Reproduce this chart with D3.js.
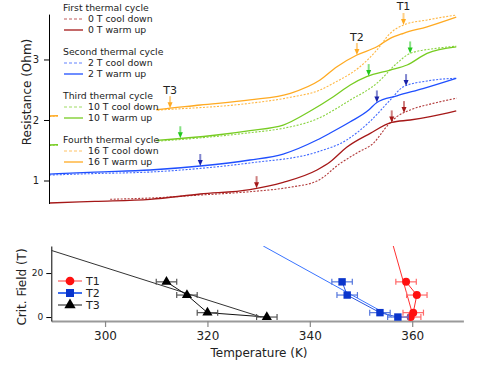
<!DOCTYPE html>
<html>
<head>
<meta charset="utf-8">
<script src="https://cdn.jsdelivr.net/npm/d3@7"></script>
<style>
body{margin:0;background:#fff}
text{font-family:"DejaVu Sans",sans-serif;fill:#222}
</style>
</head>
<body>
<svg width="503" height="365"></svg>
<script>
"use strict";
// top panel: [temperature K, resistance Ohm]
var cool0 = [[301.0,0.69],[310,0.715],[318.6,0.76],[328.3,0.815],[336.2,0.89],[341.4,0.99],[345.9,1.28],[349.5,1.47],[352.4,1.615],[355.3,1.92],[357.0,2.055],[359.6,2.165],[364.1,2.275],[368.7,2.36]];
var warm0 = [[289.1,0.628],[298,0.655],[308.8,0.689],[318.6,0.777],[328.3,0.85],[334.8,0.97],[341.4,1.174],[344.0,1.31],[347.2,1.55],[351.8,1.78],[356.0,1.96],[359.6,2.0],[363.5,2.055],[368.6,2.15]];
var cool2 = [[289.1,1.09],[298,1.115],[308.8,1.14],[318.6,1.2],[328.3,1.29],[341.4,1.47],[347.2,1.67],[351.8,1.98],[355.7,2.33],[358.3,2.55],[362.9,2.645],[368.6,2.69]];
var warm2 = [[289.1,1.107],[298,1.14],[308.8,1.174],[318.6,1.24],[328.3,1.339],[334.8,1.438],[341.4,1.669],[344.0,1.785],[347.9,1.97],[351.5,2.165],[353.1,2.29],[357.0,2.40],[362.1,2.52],[368.6,2.69]];
var cool10 = [[289.1,1.58],[309.4,1.645],[328.3,1.79],[334.8,1.863],[341.4,2.017],[347.9,2.33],[353.1,2.607],[357.0,2.937],[359.6,3.10],[364.8,3.185],[368.6,3.22]];
var warm10 = [[289.1,1.587],[309.4,1.658],[321.8,1.752],[328.3,1.826],[334.8,1.917],[340.1,2.149],[344.6,2.385],[347.9,2.579],[351.1,2.716],[355.7,2.826],[359.0,2.909],[362.9,3.102],[368.6,3.21]];
var cool16 = [[289.1,2.058],[310.7,2.165],[328.3,2.276],[336.2,2.375],[342.0,2.496],[344.6,2.607],[349.8,2.88],[353.1,3.157],[355.7,3.433],[358.3,3.57],[362.9,3.653],[368.6,3.735]];
var warm16 = [[289.1,2.066],[310.7,2.177],[318.6,2.248],[328.3,2.331],[336.2,2.441],[342.0,2.661],[345.3,2.881],[349.2,3.074],[353.1,3.21],[355.7,3.35],[358.3,3.433],[362.9,3.54],[368.6,3.70]];

var cycleNames = ["First thermal cycle","Second thermal cycle","Third thermal cycle","Fourth thermal cycle"];
var fieldNames = ["0 T","2 T","10 T","16 T"];
var colors = ["#a51818","#1f4fff","#77cc22","#ffaa22"];
var arrowColors = ["#a51818","#1a22a8","#22c81e","#ffaa22"];

// arrow positions (K), one per cycle; T1 sits on cool down, T2/T3 on warm up
var arrowT1 = [358.4,358.8,359.6,358.3];
var arrowT2 = [356.0,353.1,351.5,349.2];
var arrowT3 = [329.6,318.6,314.7,312.7];

// bottom panel
var critFields = [16,10,2,0];
var critT1 = [358.8,360.9,360.2,359.7];
var critT2 = [346.3,347.3,353.7,357.2];
var critT3 = [312.0,316.0,320.0,331.6];
var critErr = [2,2,2,2];
var fitT1 = [[356.3,32.3],[360.3,-0.6]];
var fitT2 = [[330.9,32.3],[356.0,0]];
var fitT3 = [[289.5,30.3],[330.5,0]];
var xTicks = [300,320,340,360];

var svg = d3.select("svg");

var x = d3.scaleLinear().domain([289.5,370]).range([51.3,463.4]);
var yTop = d3.scaleLinear().domain([0.62,3.75]).range([203.5,14.1]);
var yBot = d3.scaleLinear().domain([-1.8,32.3]).range([321,246]);

// ---- top panel
var line = d3.line().x(d => x(d[0])).y(d => yTop(d[1])).curve(d3.curveMonotoneX);
var curves = [
  {d:cool0,c:0,dash:true},{d:warm0,c:0},
  {d:cool2,c:1,dash:true},{d:warm2,c:1},
  {d:cool10,c:2,dash:true},{d:warm10,c:2},
  {d:cool16,c:3,dash:true},{d:warm16,c:3}
];
svg.append("g").selectAll("path")
  .data(curves)
  .enter()
  .append("path")
  .attr("d", d => line(d.d))
  .attr("fill","none")
  .attr("stroke", d => colors[d.c])
  .attr("stroke-width", d => d.dash ? 1.1 : 1.3)
  .attr("stroke-opacity", d => d.dash ? 0.85 : 1)
  .attr("stroke-dasharray", d => d.dash ? "2,1.5" : null);

function valueAt(data, t){
  var i = d3.bisector(d => d[0]).left(data, t);
  if(i <= 0) return data[0][1];
  if(i >= data.length) return data[data.length-1][1];
  var a = data[i-1], b = data[i];
  return a[1] + (b[1]-a[1])*(t-a[0])/(b[0]-a[0]);
}

var coolSets = [cool0,cool2,cool10,cool16];
var warmSets = [warm0,warm2,warm10,warm16];
var arrows = [];
for(var i=0;i<4;i++){
  arrows.push({t:arrowT1[i], r:valueAt(coolSets[i],arrowT1[i]), c:i, lbl:"T1"});
  arrows.push({t:arrowT2[i], r:valueAt(warmSets[i],arrowT2[i]), c:i, lbl:"T2"});
  arrows.push({t:arrowT3[i], r:valueAt(warmSets[i],arrowT3[i]), c:i, lbl:"T3"});
}
var ag = svg.append("g").selectAll("g")
  .data(arrows)
  .enter()
  .append("g")
  .attr("transform", d => "translate(" + x(d.t) + "," + yTop(d.r) + ")");
ag.append("line")
  .attr("x1",0).attr("x2",0).attr("y1",-12).attr("y2",-5)
  .attr("stroke", d => arrowColors[d.c])
  .attr("stroke-opacity",0.55)
  .attr("stroke-width",2);
ag.append("path")
  .attr("d","M-2.5,-6L2.5,-6L0,0Z")
  .attr("fill", d => arrowColors[d.c]);
ag.filter(d => d.c === 3)
  .append("text")
  .attr("y",-14.5)
  .attr("text-anchor","middle")
  .attr("font-size",11)
  .text(d => d.lbl);

// legend with opaque background
svg.append("rect").attr("x",58).attr("y",0).attr("width",98).attr("height",168).attr("fill","#fff");
var lg = svg.append("g").selectAll("g")
  .data(cycleNames)
  .enter()
  .append("g")
  .attr("transform", (d,i) => "translate(0," + (8 + 44*i) + ")");
lg.append("text").attr("x",63).attr("dy","0.35em").attr("font-size",9.3).text(d => d);
lg.append("line").attr("x1",64).attr("x2",83).attr("y1",11).attr("y2",11)
  .attr("stroke",(d,i) => colors[i]).attr("stroke-opacity",0.7).attr("stroke-dasharray","3,2").attr("stroke-width",1);
lg.append("line").attr("x1",64).attr("x2",83).attr("y1",22).attr("y2",22)
  .attr("stroke",(d,i) => colors[i]).attr("stroke-width",1.3);
lg.append("text").attr("x",88).attr("y",11).attr("dy","0.35em").attr("font-size",9.3).text((d,i) => fieldNames[i] + " cool down");
lg.append("text").attr("x",88).attr("y",22).attr("dy","0.35em").attr("font-size",9.3).text((d,i) => fieldNames[i] + " warm up");

var yAxTop = svg.append("g")
  .attr("transform","translate(49,0)")
  .call(d3.axisLeft(yTop).tickValues([1,2,3]).tickFormat(d3.format("d")).tickSize(5).tickSizeOuter(0).tickPadding(5));
yAxTop.selectAll("text").attr("font-size",10).style("font-family","DejaVu Sans");
svg.append("text")
  .attr("transform","translate(27,92) rotate(-90)")
  .attr("text-anchor","middle").attr("dy","0.35em").attr("font-size",12)
  .text("Resistance (Ohm)");

// ---- bottom panel
svg.append("clipPath").attr("id","plot")
  .append("rect").attr("x",x.range()[0]).attr("y",246).attr("width",x.range()[1]-x.range()[0]).attr("height",75);

var xAx = svg.append("g")
  .attr("transform","translate(0,321)")
  .call(d3.axisBottom(x).tickValues(xTicks).tickSize(6).tickSizeOuter(0).tickPadding(4));
xAx.select(".domain").attr("stroke","#9a9a9a").attr("stroke-width",2);
xAx.selectAll(".tick line").attr("stroke","#888").attr("stroke-width",1.2);
xAx.selectAll("text").attr("font-size",12).style("font-family","DejaVu Sans");
svg.append("text").attr("x",259).attr("y",353).attr("dy","0.35em").attr("text-anchor","middle").attr("font-size",12).text("Temperature (K)");

var yAxBot = svg.append("g")
  .attr("transform","translate(" + x.range()[0] + ",0)")
  .call(d3.axisLeft(yBot).tickValues([0,20]).tickSize(5).tickSizeOuter(0).tickPadding(3));
yAxBot.selectAll("text").attr("font-size",9).attr("fill","#444").style("font-family","DejaVu Sans");
svg.append("text")
  .attr("transform","translate(22,287) rotate(-90)")
  .attr("text-anchor","middle").attr("dy","0.35em").attr("font-size",12)
  .text("Crit. Field (T)");

var series = [
  {t:critT1, fit:fitT1, line:"#ff2a2a", err:"#ff6a6a", fitc:"#ff3030", leg:"#ff9c9c", mark:"circle", fill:"#ff1010"},
  {t:critT2, fit:fitT2, line:"#2a55dd", err:"#5577dd", fitc:"#3a74ff", leg:"#3f6fee", mark:"square", fill:"#0a35cc"},
  {t:critT3, fit:fitT3, line:"#111", err:"#555", fitc:"#333", leg:"#8a8a8a", mark:"triangle", fill:"#000"}
];
var lp = d3.line().x(d => x(d[0])).y(d => yBot(d[1]));
var bg = svg.append("g").attr("clip-path","url(#plot)");
series.forEach(s => {
  bg.append("path").attr("d", lp(s.fit)).attr("fill","none").attr("stroke",s.fitc).attr("stroke-width",1);
});
var sym = {circle:d3.symbolCircle, square:d3.symbolSquare, triangle:d3.symbolTriangle};
var symSize = {circle:50, square:55, triangle:45};
series.forEach(s => {
  var pts = s.t.map((t,i) => [t, critFields[i], critErr[i]]);
  var g = svg.append("g");
  g.append("path").attr("d", lp(pts)).attr("fill","none").attr("stroke",s.line).attr("stroke-width",1);
  var e = g.selectAll(".err").data(pts).enter().append("g").attr("stroke",s.err).attr("stroke-width",1.2);
  e.append("line").attr("x1",d => x(d[0]-d[2])).attr("x2",d => x(d[0]+d[2])).attr("y1",d => yBot(d[1])).attr("y2",d => yBot(d[1]));
  e.append("line").attr("x1",d => x(d[0]-d[2])).attr("x2",d => x(d[0]-d[2])).attr("y1",d => yBot(d[1])-3).attr("y2",d => yBot(d[1])+3);
  e.append("line").attr("x1",d => x(d[0]+d[2])).attr("x2",d => x(d[0]+d[2])).attr("y1",d => yBot(d[1])-3).attr("y2",d => yBot(d[1])+3);
  g.selectAll(".pt").data(pts).enter().append("path")
    .attr("d", d3.symbol().type(sym[s.mark]).size(symSize[s.mark]))
    .attr("transform", d => "translate(" + x(d[0]) + "," + yBot(d[1]) + ")")
    .attr("fill",s.fill);
});

// bottom legend
var bl = svg.append("g").selectAll("g")
  .data(series)
  .enter()
  .append("g")
  .attr("transform",(d,i) => "translate(0," + (281 + 12*i) + ")");
bl.append("line").attr("x1",58).attr("x2",82).attr("stroke",d => d.leg).attr("stroke-width",2);
bl.append("path").attr("d",d => d3.symbol().type(sym[d.mark]).size(symSize[d.mark]+10)()).attr("transform","translate(70,0)").attr("fill",d => d.fill);
bl.append("text").attr("x",86).attr("dy","0.35em").attr("font-size",11).text((d,i) => "T" + (i+1));
</script>
</body>
</html>
